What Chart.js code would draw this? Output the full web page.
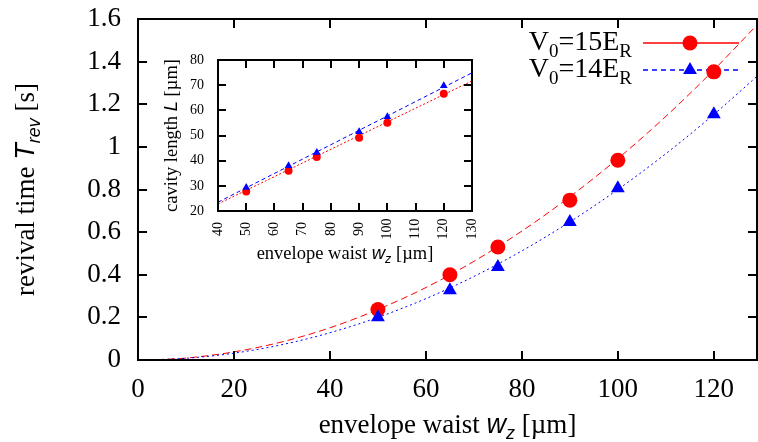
<!DOCTYPE html>
<html>
<head>
<meta charset="utf-8">
<script src="https://cdn.jsdelivr.net/npm/chart.js@4.4.1/dist/chart.umd.min.js"></script>
<style>
html, body { margin: 0; padding: 0; background: #fff; }
#wrap { position: relative; width: 758px; height: 442px; }
#main { position: absolute; left: 0; top: 0; }
#inset { position: absolute; left: 150px; top: 50px; }
</style>
</head>
<body>
<div id="wrap">
  <canvas id="main" width="758" height="442"></canvas>
  <canvas id="inset" width="340" height="220"></canvas>
</div>
<script>
// main plot: revival time vs envelope waist
const waists = [50, 65, 75, 90, 100, 120];
const trev15 = [0.237, 0.40, 0.53, 0.75, 0.937, 1.352];
const trev14 = [0.201, 0.327, 0.436, 0.648, 0.806, 1.153];

// fitted curves
const fitX = [4, 10, 20, 30, 40, 50, 60, 70, 80, 90, 100, 110, 120, 129];
const fit15 = [0.0015, 0.009, 0.038, 0.085, 0.151, 0.237, 0.34, 0.463, 0.605, 0.766, 0.945, 1.143, 1.361, 1.572];
const fit14 = [0.0013, 0.008, 0.032, 0.072, 0.128, 0.200, 0.288, 0.392, 0.512, 0.648, 0.80, 0.968, 1.152, 1.331];

const mainXTicks = [0, 20, 40, 60, 80, 100, 120];
const mainYTicks = [0, 0.2, 0.4, 0.6, 0.8, 1, 1.2, 1.4, 1.6];

// inset: cavity length vs envelope waist
const len15 = [27.7, 36.0, 41.5, 49.1, 55.1, 66.6];
const len14 = [29.3, 38.0, 43.2, 51.5, 57.5, 69.8];
const lineX = [40, 130];
const line15 = [22.8, 71.7];
const line14 = [23.5, 74.9];

const insetXTicks = [40, 50, 60, 70, 80, 90, 100, 110, 120, 130];
const insetYTicks = [20, 30, 40, 50, 60, 70, 80];

const RED = '#ff0000';
const BLUE = '#0000ff';
const SERIF = 'Liberation Serif';
const SANS = 'Liberation Sans';

function pts(xs, ys) {
    return xs.map((x, i) => ({ x: x, y: ys[i] }));
}

function richText(ctx, parts, x, y, align) {
    let w = 0;
    parts.forEach(p => { ctx.font = p.font; w += ctx.measureText(p.t).width; });
    let cx = align === 'right' ? x - w : (align === 'center' ? x - w / 2 : x);
    ctx.textAlign = 'left';
    ctx.textBaseline = 'alphabetic';
    ctx.fillStyle = '#000';
    parts.forEach(p => {
        ctx.font = p.font;
        ctx.fillText(p.t, cx, y + (p.dy || 0));
        cx += ctx.measureText(p.t).width;
    });
}

// box with inward ticks on all four sides
function framePlugin(tickLen) {
    return {
        id: 'frame',
        afterDatasetsDraw(chart) {
            const ctx = chart.ctx;
            const a = chart.chartArea;
            const xs = chart.scales.x, ys = chart.scales.y;
            ctx.save();
            ctx.strokeStyle = '#000';
            ctx.lineWidth = 2;
            ctx.beginPath();
            xs.ticks.forEach(t => {
                const px = Math.round(xs.getPixelForValue(t.value));
                ctx.moveTo(px, a.bottom); ctx.lineTo(px, a.bottom - tickLen);
                ctx.moveTo(px, a.top); ctx.lineTo(px, a.top + tickLen);
            });
            ys.ticks.forEach(t => {
                const py = Math.round(ys.getPixelForValue(t.value));
                ctx.moveTo(a.left, py); ctx.lineTo(a.left + tickLen, py);
                ctx.moveTo(a.right, py); ctx.lineTo(a.right - tickLen, py);
            });
            ctx.stroke();
            ctx.strokeRect(a.left, a.top, a.right - a.left, a.bottom - a.top);
            ctx.restore();
        }
    };
}

function fixedTicks(values) {
    return function(scale) { scale.ticks = values.map(v => ({ value: v })); };
}

// keep the layout padding exact: no extra room for half labels
function fitXScale(h) {
    return function(scale) { scale.height = h; scale.paddingLeft = 0; scale.paddingRight = 0; };
}
function fitYScale(w) {
    return function(scale) { scale.width = w; scale.paddingTop = 0; scale.paddingBottom = 0; };
}

const mainTitles = {
    id: 'mainTitles',
    beforeDatasetsDraw(chart) {
        const ctx = chart.ctx;
        const a = chart.chartArea;
        ctx.save();
        // x title
        richText(ctx, [
            { t: 'envelope waist ', font: '27px "' + SERIF + '"' },
            { t: 'w', font: 'italic 27px "' + SANS + '"' },
            { t: 'z', font: 'italic 18px "' + SANS + '"', dy: 6 },
            { t: ' [\u00b5m]', font: '27px "' + SERIF + '"' }
        ], (a.left + a.right) / 2, 433, 'center');
        // y title
        ctx.save();
        ctx.translate(34, (a.top + a.bottom) / 2);
        ctx.rotate(-Math.PI / 2);
        richText(ctx, [
            { t: 'revival time ', font: '27px "' + SERIF + '"' },
            { t: 'T', font: 'italic 27px "' + SANS + '"' },
            { t: 'rev', font: 'italic 18px "' + SANS + '"', dy: 6 },
            { t: ' [s]', font: '27px "' + SERIF + '"' }
        ], 0, 0, 'center');
        ctx.restore();
        // legend
        const rows = [
            { label: '15', color: RED, y: 43, style: 'circle', r: 7.5, dash: [] },
            { label: '14', color: BLUE, y: 70, style: 'triangle', r: 8, dash: [5, 4] }
        ];
        rows.forEach(row => {
            richText(ctx, [
                { t: 'V', font: '28px "' + SERIF + '"' },
                { t: '0', font: '19px "' + SERIF + '"', dy: 7 },
                { t: '=' + row.label + 'E', font: '28px "' + SERIF + '"' },
                { t: 'R', font: '19px "' + SERIF + '"', dy: 7 }
            ], 632, row.y + 7, 'right');
            ctx.strokeStyle = row.color;
            ctx.lineWidth = 1.3;
            ctx.setLineDash(row.dash);
            ctx.beginPath();
            ctx.moveTo(643, row.y);
            ctx.lineTo(739, row.y);
            ctx.stroke();
            ctx.setLineDash([]);
            ctx.fillStyle = row.color;
            ctx.beginPath();
            if (row.style === 'circle') {
                ctx.arc(690, row.y, row.r, 0, Math.PI * 2);
            } else {
                const r = row.r;
                ctx.moveTo(690, row.y - r);
                ctx.lineTo(690 + r * 0.866, row.y + r / 2);
                ctx.lineTo(690 - r * 0.866, row.y + r / 2);
                ctx.closePath();
            }
            ctx.fill();
        });
        ctx.restore();
    }
};

const insetTitles = {
    id: 'insetTitles',
    beforeDatasetsDraw(chart) {
        const ctx = chart.ctx;
        const a = chart.chartArea;
        const xs = chart.scales.x;
        ctx.save();
        // x tick labels, turned to read upwards
        ctx.fillStyle = '#000';
        ctx.font = '14px "' + SERIF + '"';
        ctx.textAlign = 'center';
        ctx.textBaseline = 'middle';
        xs.ticks.forEach(t => {
            ctx.save();
            ctx.translate(xs.getPixelForValue(t.value), a.bottom + 18);
            ctx.rotate(-Math.PI / 2);
            ctx.fillText(String(t.value), 0, 0);
            ctx.restore();
        });
        richText(ctx, [
            { t: 'envelope waist ', font: '18.5px "' + SERIF + '"' },
            { t: 'w', font: 'italic 18.5px "' + SANS + '"' },
            { t: 'z', font: 'italic 12.5px "' + SANS + '"', dy: 4 },
            { t: ' [\u00b5m]', font: '18.5px "' + SERIF + '"' }
        ], (a.left + a.right) / 2, 209, 'center');
        ctx.translate(27, (a.top + a.bottom) / 2);
        ctx.rotate(-Math.PI / 2);
        richText(ctx, [
            { t: 'cavity length ', font: '18.5px "' + SERIF + '"' },
            { t: 'L', font: 'italic 18.5px "' + SANS + '"' },
            { t: ' [\u00b5m]', font: '18.5px "' + SERIF + '"' }
        ], 0, 0, 'center');
        ctx.restore();
    }
};

const mainChart = new Chart(document.getElementById('main').getContext('2d'), {
    type: 'scatter',
    data: {
        datasets: [
            { label: 'fit15', data: pts(fitX, fit15), showLine: true, pointRadius: 0,
              borderColor: RED, borderWidth: 1, borderDash: [7, 4], cubicInterpolationMode: 'monotone', order: 3 },
            { label: 'fit14', data: pts(fitX, fit14), showLine: true, pointRadius: 0,
              borderColor: BLUE, borderWidth: 1, borderDash: [2, 3], cubicInterpolationMode: 'monotone', order: 2 },
            { label: 'V0=15ER', data: pts(waists, trev15), pointStyle: 'circle', pointRadius: 7.5,
              backgroundColor: RED, borderColor: RED, borderWidth: 0, order: 1 },
            { label: 'V0=14ER', data: pts(waists, trev14), pointStyle: 'triangle', pointRadius: 8,
              backgroundColor: BLUE, borderColor: BLUE, borderWidth: 0, order: 0 }
        ]
    },
    options: {
        responsive: false,
        animation: false,
        devicePixelRatio: 1,
        layout: { autoPadding: false, padding: { left: 0, right: 1, top: 19, bottom: 0 } },
        plugins: { legend: { display: false }, tooltip: { enabled: false } },
        scales: {
            x: {
                type: 'linear', min: 0, max: 129,
                grid: { display: false, drawTicks: false }, border: { display: false },
                afterBuildTicks: fixedTicks(mainXTicks),
                afterFit: fitXScale(82),
                ticks: { color: '#000', font: { family: SERIF, size: 27 }, padding: 14, maxRotation: 0, autoSkip: false }
            },
            y: {
                type: 'linear', min: 0, max: 1.6,
                grid: { display: false, drawTicks: false }, border: { display: false },
                afterBuildTicks: fixedTicks(mainYTicks),
                afterFit: fitYScale(138),
                ticks: { color: '#000', font: { family: SERIF, size: 27 }, padding: 17, autoSkip: false,
                         callback: v => String(Math.round(v * 10) / 10) }
            }
        }
    },
    plugins: [mainTitles, framePlugin(9)]
});

const insetChart = new Chart(document.getElementById('inset').getContext('2d'), {
    type: 'scatter',
    data: {
        datasets: [
            { label: 'line15', data: pts(lineX, line15), showLine: true, pointRadius: 0,
              borderColor: RED, borderWidth: 1, borderDash: [2, 2], order: 3 },
            { label: 'line14', data: pts(lineX, line14), showLine: true, pointRadius: 0,
              borderColor: BLUE, borderWidth: 1, borderDash: [4, 3], order: 2 },
            { label: 'V0=15ER', data: pts(waists, len15), pointStyle: 'circle', pointRadius: 4,
              backgroundColor: RED, borderColor: RED, borderWidth: 0, order: 1 },
            { label: 'V0=14ER', data: pts(waists, len14), pointStyle: 'triangle', pointRadius: 4.5,
              backgroundColor: BLUE, borderColor: BLUE, borderWidth: 0, order: 0 }
        ]
    },
    options: {
        responsive: false,
        animation: false,
        devicePixelRatio: 1,
        layout: { autoPadding: false, padding: { left: 0, right: 18, top: 10, bottom: 0 } },
        plugins: { legend: { display: false }, tooltip: { enabled: false } },
        scales: {
            x: {
                type: 'linear', min: 40, max: 130,
                grid: { display: false, drawTicks: false }, border: { display: false },
                afterBuildTicks: fixedTicks(insetXTicks),
                afterFit: fitXScale(59),
                ticks: { display: false }
            },
            y: {
                type: 'linear', min: 20, max: 80,
                grid: { display: false, drawTicks: false }, border: { display: false },
                afterBuildTicks: fixedTicks(insetYTicks),
                afterFit: fitYScale(68),
                ticks: { color: '#000', font: { family: SERIF, size: 14 }, padding: 14, autoSkip: false }
            }
        }
    },
    plugins: [insetTitles, framePlugin(8)]
});
</script>
</body>
</html>
